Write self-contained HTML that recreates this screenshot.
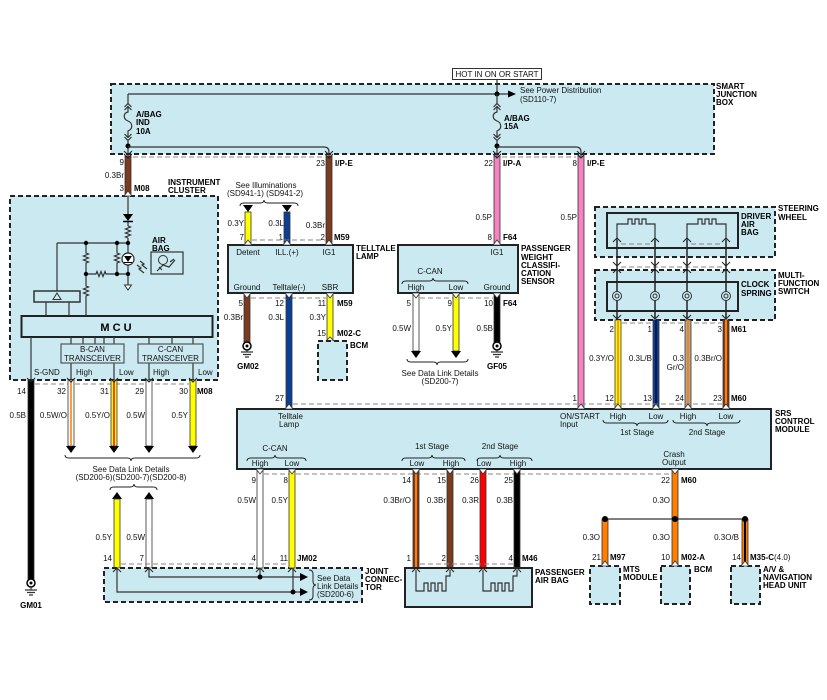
<!DOCTYPE html>
<html><head><meta charset="utf-8"><style>
html,body{margin:0;padding:0;background:#fff;}
svg{display:block;}
text{font-family:"Liberation Sans",Arial,sans-serif;font-size:8px;fill:#111;}
.b{font-weight:bold;fill:#000;}
.m{text-anchor:middle;}
.e{text-anchor:end;}
.ln{stroke:#333;stroke-width:1.2;fill:none;}
.dl{stroke:#888;stroke-width:1;stroke-dasharray:5 3;fill:none;}
.db{fill:#cbe9f1;stroke:#222;stroke-width:2;stroke-dasharray:5 3;}
.sb{fill:#cbe9f1;stroke:#222;stroke-width:2;}
.w{stroke:#333;stroke-width:0.8;}
.pn{fill:#fff;stroke:#333;stroke-width:0.8;}
.ch{stroke:#222;stroke-width:1;fill:none;}
</style></head><body>
<svg width="827" height="700" viewBox="0 0 827 700" xmlns="http://www.w3.org/2000/svg">

<!-- SMART JUNCTION BOX -->
<rect class="db" x="111" y="84" width="603" height="70"/>
<rect x="452.5" y="68.5" width="89" height="11" fill="#fff" stroke="#333"/>
<text class="m" x="497" y="77">HOT IN ON OR START</text>
<line class="ln" x1="497" y1="80" x2="497" y2="94"/>
<line class="ln" x1="128" y1="94" x2="509" y2="94"/>
<polygon points="508,90.5 516,94 508,97.5" fill="#000"/>
<circle cx="497" cy="94" r="2.5" fill="#000"/>
<text x="520" y="93">See Power Distribution</text>
<text x="520" y="102">(SD110-7)</text>
<text class="b" x="716" y="89">SMART</text>
<text class="b" x="716" y="97">JUNCTION</text>
<text class="b" x="716" y="105">BOX</text>

<path class="ln" d="M128,94 V104 M124.5,107 L128,103.5 L131.5,107 M124.5,110 L128,106.5 L131.5,110 M128,107 V112 C123,113 123,119 128,121 C133,123 133,129 128,131 V137 M124.5,134 L128,137.5 L131.5,134 M124.5,137 L128,140.5 L131.5,137 M128,140 V154"/>
<circle cx="128" cy="146" r="2.5" fill="#000"/>
<path class="ln" d="M128,147 H324 Q329,147 329,152 V154"/>
<text class="b" x="136" y="117">A/BAG</text>
<text class="b" x="136" y="125">IND</text>
<text class="b" x="136" y="134">10A</text>

<path class="ln" d="M497,94 V104 M493.5,107 L497,103.5 L500.5,107 M493.5,110 L497,106.5 L500.5,110 M497,107 V112 C492,113 492,119 497,121 C502,123 502,129 497,131 V137 M493.5,134 L497,137.5 L500.5,134 M493.5,137 L497,140.5 L500.5,137 M497,140 V154"/>
<circle cx="497" cy="146" r="2.5" fill="#000"/>
<path class="ln" d="M497,147 H576 Q581,147 581,152 V154"/>
<text class="b" x="504" y="121">A/BAG</text>
<text class="b" x="504" y="129">15A</text>

<!-- top wires -->
<line class="dl" x1="133" y1="157" x2="324" y2="157"/>
<line class="dl" x1="502" y1="157" x2="576" y2="157"/>
<rect class="w" x="125" y="156" width="6" height="40" fill="#7c3a1f"/>
<rect class="w" x="326" y="156" width="6" height="89" fill="#7c3a1f"/>
<rect class="w" x="494" y="156" width="6" height="89" fill="#f583c2"/>
<rect class="w" x="578" y="156" width="6" height="253" fill="#f583c2"/>
<path class="ch" d="M124,151 L128,155 L132,151 M124,154 L128,158 L132,154"/>
<path class="ch" d="M325,151 L329,155 L333,151 M325,154 L329,158 L333,154"/>
<path class="ch" d="M493,151 L497,155 L501,151 M493,154 L497,158 L501,154"/>
<path class="ch" d="M577,151 L581,155 L585,151 M577,154 L581,158 L585,154"/>
<text class="e" x="124" y="165">9</text>
<text class="e" x="124" y="178">0.3Br</text>
<text class="e" x="124" y="191">3</text>
<text class="b" x="134" y="191">M08</text>
<text class="e" x="325" y="166">23</text>
<text class="b" x="335" y="166">I/P-E</text>
<text class="e" x="493" y="166">22</text>
<text class="b" x="503" y="166">I/P-A</text>
<text class="e" x="577" y="166">8</text>
<text class="b" x="587" y="166">I/P-E</text>
<text class="e" x="325" y="228">0.3Br</text>
<text class="e" x="325" y="240">2</text>
<text class="b" x="334" y="240">M59</text>
<text class="e" x="492" y="220">0.5P</text>
<text class="e" x="492" y="240">8</text>
<text class="b" x="503" y="240">F64</text>
<text class="e" x="577" y="220">0.5P</text>

<!-- INSTRUMENT CLUSTER -->
<text class="b" x="168" y="185">INSTRUMENT</text>
<text class="b" x="168" y="193">CLUSTER</text>
<rect class="db" x="10" y="196" width="208" height="184"/>
<polygon class="pn" points="124,196 132,196 128,191"/>
<path class="ln" d="M128,196 V214 M128,221 V226 M128,238 V253 M128,265 V285"/>
<polygon points="123,214 133,214 128,221" fill="#000"/>
<line x1="123" y1="221.5" x2="133" y2="221.5" stroke="#000" stroke-width="1.5"/>
<path class="ln" d="M128,226 l2.5,1 l-5,2 l5,2 l-5,2 l5,2 l-5,2 l2.5,1"/>
<line class="ln" x1="57" y1="243" x2="128" y2="243"/>
<line class="ln" x1="57" y1="243" x2="57" y2="291"/>
<path class="ln" d="M86,243 V253 l2.5,1 l-5,2 l5,2 l-5,2 l5,2 l-2.5,1 V286 l2.5,1 l-5,2 l5,2 l-5,2 l5,2 l-2.5,1 V316"/>
<path class="ln" d="M117,243 V253 l2.5,1 l-5,2 l5,2 l-5,2 l5,2 l-2.5,1 V274"/>
<path class="ln" d="M86,274 H96 l1,-2.5 l2,5 l2,-5 l2,5 l2,-5 l1,2.5 H128"/>
<circle cx="86" cy="243" r="2.2" fill="#000"/>
<circle cx="117" cy="243" r="2.2" fill="#000"/>
<circle cx="128" cy="243" r="2.2" fill="#000"/>
<circle cx="86" cy="274" r="2.2" fill="#000"/>
<circle cx="117" cy="274" r="2.2" fill="#000"/>
<circle cx="128" cy="274" r="2.2" fill="#000"/>
<circle cx="128" cy="259" r="6" fill="#fff" stroke="#222" stroke-width="1.2"/>
<polygon points="124,256 132,256 128,262" fill="#000"/>
<line x1="124" y1="262.5" x2="132" y2="262.5" stroke="#000"/>
<polygon points="124.5,285 131.5,285 128,290" fill="#fff" stroke="#333"/>
<path class="ln" d="M137,265 l4,3 l-2,1 l5,4 M140,261 l4,3 l-2,1 l5,4"/>
<text class="b" x="152" y="243">AIR</text>
<text class="b" x="152" y="251">BAG</text>
<rect x="151" y="252" width="32" height="22" fill="#cbe9f1" stroke="#333" stroke-width="1.2"/>
<circle cx="163" cy="260" r="4.5" fill="none" stroke="#333"/>
<path class="ln" d="M157,271 l6,-6 l6,2 l6,-7 M170,262 l4,-3 M159,267 l3,3"/>
<rect x="34" y="291" width="46" height="11" fill="#cbe9f1" stroke="#333" stroke-width="1.5"/>
<polygon points="57,293 61,299.5 53,299.5" fill="none" stroke="#333"/>
<path class="ln" d="M46,302 V316 M69,302 V316"/>
<rect x="21.5" y="316" width="191" height="21" fill="#cbe9f1" stroke="#222" stroke-width="2"/>
<text class="b m" x="116" y="331" style="font-size:11px">M C U</text>
<path class="ln" d="M71,337 V344 M83,337 V344 M95,337 V344 M104,337 V344 M114,337 V344 M149,337 V344 M172,337 V344 M193,337 V344 M31,337 V380 M71,363 V380 M114,363 V380 M149,363 V380 M193,363 V380"/>
<rect x="61" y="344" width="63" height="19" fill="#cbe9f1" stroke="#555" stroke-width="1.2"/>
<rect x="138" y="344" width="65" height="19" fill="#cbe9f1" stroke="#555" stroke-width="1.2"/>
<text class="m" x="92.5" y="352">B-CAN</text>
<text class="m" x="92.5" y="361">TRANSCEIVER</text>
<text class="m" x="170.5" y="352">C-CAN</text>
<text class="m" x="170.5" y="361">TRANSCEIVER</text>
<text x="34" y="375">S-GND</text>
<text x="76" y="375">High</text>
<text x="119" y="375">Low</text>
<text x="153" y="375">High</text>
<text x="198" y="375">Low</text>

<!-- cluster bottom wires -->
<line class="dl" x1="35" y1="384" x2="189" y2="384"/>
<rect class="w" x="28" y="380" width="6" height="200" fill="#000"/>
<rect class="w" x="68" y="380" width="6" height="66" fill="#fff"/><rect x="70" y="380" width="2" height="66" fill="#ff9a40"/>
<rect class="w" x="111" y="380" width="6" height="66" fill="#ffff00"/><rect x="113" y="380" width="2" height="66" fill="#ff4000"/>
<rect class="w" x="146" y="380" width="6" height="66" fill="#fff"/>
<rect class="w" x="190" y="380" width="6" height="66" fill="#ffff00"/>
<path class="ch" d="M27,378 L31,382 L35,378 M67,378 L71,382 L75,378 M110,378 L114,382 L118,378 M145,378 L149,382 L153,378 M189,378 L193,382 L197,378"/>
<polygon points="66,446 76,446 71,453" fill="#000"/>
<polygon points="109,446 119,446 114,453" fill="#000"/>
<polygon points="144,446 154,446 149,453" fill="#000"/>
<polygon points="188,446 198,446 193,453" fill="#000"/>
<text class="e" x="26" y="394">14</text>
<text class="e" x="66" y="394">32</text>
<text class="e" x="109" y="394">31</text>
<text class="e" x="144" y="394">29</text>
<text class="e" x="188" y="394">30</text>
<text class="b" x="197" y="394">M08</text>
<text class="e" x="26" y="418">0.5B</text>
<text class="e" x="67" y="418">0.5W/O</text>
<text class="e" x="110" y="418">0.5Y/O</text>
<text class="e" x="145" y="418">0.5W</text>
<text class="e" x="188" y="418">0.5Y</text>
<path class="ch" d="M65,455 Q65,458 69,458 L127,458 Q131,458 131,461 Q131,458 135,458 L196,458 Q200,458 200,455"/>
<text class="m" x="131" y="472">See Data Link Details</text>
<text class="m" x="131" y="480">(SD200-6)(SD200-7)(SD200-8)</text>
<path class="ch" d="M110,490 Q110,487 114,487 L130,487 Q134,487 134,484 Q134,487 138,487 L153,487 Q157,487 157,490"/>
<polygon points="112,499 122,499 117,492" fill="#000"/>
<polygon points="144,499 154,499 149,492" fill="#000"/>
<rect class="w" x="114" y="499" width="6" height="69" fill="#ffff00"/>
<rect class="w" x="146" y="499" width="6" height="69" fill="#fff"/>
<text class="e" x="112" y="540">0.5Y</text>
<text class="e" x="145" y="540">0.5W</text>
<text class="e" x="112" y="561">14</text>
<text class="e" x="144" y="561">7</text>
<line class="dl" x1="121" y1="564" x2="288" y2="564"/>
<!-- ground GM01 -->
<circle cx="31" cy="583" r="4" fill="#fff" stroke="#000" stroke-width="1.5"/>
<circle cx="31" cy="583" r="1.5" fill="#000"/>
<path class="ln" d="M31,587 V590 M25,590 H37 M27,592.5 H35 M29,595 H33"/>
<text class="b m" x="31" y="608">GM01</text>

<!-- JOINT CONNECTOR -->
<rect class="db" x="104" y="568" width="258" height="34"/>
<path class="ch" d="M113,572 L117,568 L121,572 M145,572 L149,568 L153,572 M256,572 L260,568 L264,572 M288,572 L292,568 L296,572"/>
<path class="ln" d="M149,568 V577 H301 M117,568 V592 H301 M260,568 V577 M293,568 V592"/>
<circle cx="260" cy="577" r="2.5" fill="#000"/>
<circle cx="293" cy="592" r="2.5" fill="#000"/>
<polygon points="300,573 308,577 300,581" fill="#000"/>
<polygon points="300,588 308,592 300,596" fill="#000"/>
<path class="ch" d="M309,570 Q313,570 313,574 L313,581 Q313,585 316,585 Q313,585 313,589 L313,596 Q313,600 309,600"/>
<text x="317" y="581">See Data</text>
<text x="317" y="589">Link Details</text>
<text x="317" y="597">(SD200-6)</text>
<text class="b" x="365" y="574">JOINT</text>
<text class="b" x="365" y="582">CONNEC-</text>
<text class="b" x="365" y="590">TOR</text>

<!-- TELLTALE LAMP -->
<text class="m" x="266" y="188">See Illuminations</text>
<text class="m" x="265" y="196">(SD941-1) (SD941-2)</text>
<path class="ch" d="M240,206 Q240,203 244,203 L260,203 Q264,203 264,200 Q264,203 268,203 L294,203 Q298,203 298,206"/>
<polygon points="243,205 253,205 248,212" fill="#000"/>
<polygon points="282,205 292,205 287,212" fill="#000"/>
<rect class="w" x="245" y="212" width="6" height="33" fill="#ffff00"/>
<rect class="w" x="284" y="212" width="6" height="33" fill="#0c3f94"/>
<text class="e" x="244" y="226">0.3Y</text>
<text class="e" x="284" y="226">0.3L</text>
<text class="e" x="244" y="240">7</text>
<text class="e" x="283" y="240">1</text>
<line class="dl" x1="252" y1="240" x2="325" y2="240"/>
<rect class="sb" x="228" y="245" width="125" height="48"/>
<polygon class="pn" points="244,245 252,245 248,240"/>
<polygon class="pn" points="283,245 291,245 287,240"/>
<polygon class="pn" points="325,245 333,245 329,240"/>
<text class="b" x="356" y="251">TELLTALE</text>
<text class="b" x="356" y="259">LAMP</text>
<text class="m" x="248" y="255">Detent</text>
<text class="m" x="287" y="255">ILL.(+)</text>
<text class="m" x="329" y="255">IG1</text>
<text class="m" x="247" y="290">Ground</text>
<text class="m" x="289" y="290">Telltale(-)</text>
<text class="m" x="330" y="290">SBR</text>
<line class="dl" x1="251" y1="298" x2="326" y2="298"/>
<rect class="w" x="244" y="293" width="6" height="49" fill="#7c3a1f"/>
<rect class="w" x="286" y="293" width="6" height="116" fill="#0c3f94"/>
<rect class="w" x="327" y="293" width="6" height="48" fill="#ffff00"/>
<polygon class="pn" points="243,293 251,293 247,298"/>
<polygon class="pn" points="285,293 293,293 289,298"/>
<polygon class="pn" points="326,293 334,293 330,298"/>
<text class="e" x="243" y="306">5</text>
<text class="e" x="284" y="306">12</text>
<text class="e" x="326" y="306">11</text>
<text class="b" x="337" y="306">M59</text>
<text class="e" x="243" y="320">0.3Br</text>
<text class="e" x="284" y="320">0.3L</text>
<text class="e" x="326" y="320">0.3Y</text>
<text class="e" x="326" y="336">15</text>
<text class="b" x="337" y="336">M02-C</text>
<polygon class="pn" points="326,341 334,341 330,337"/>
<rect class="db" x="318" y="341" width="29" height="39"/>
<text class="b" x="350" y="348">BCM</text>
<circle cx="247" cy="346" r="4" fill="#fff" stroke="#000" stroke-width="1.5"/>
<circle cx="247" cy="346" r="1.5" fill="#000"/>
<path class="ln" d="M247,350 V352 M241,352 H253 M243,354.5 H251 M245,357 H249"/>
<text class="b m" x="248" y="369">GM02</text>

<!-- PASSENGER WEIGHT SENSOR -->
<rect class="sb" x="398" y="245" width="120" height="48"/>
<polygon class="pn" points="493,245 501,245 497,240"/>
<text class="m" x="497" y="255">IG1</text>
<text class="b" x="521" y="251">PASSENGER</text>
<text class="b" x="521" y="260">WEIGHT</text>
<text class="b" x="521" y="268">CLASSIFI-</text>
<text class="b" x="521" y="276">CATION</text>
<text class="b" x="521" y="284">SENSOR</text>
<text class="m" x="430" y="274">C-CAN</text>
<path class="ch" d="M402,284 Q402,281 406,281 L429,281 Q433,281 433,278 Q433,281 437,281 L464,281 Q468,281 468,284"/>
<text class="m" x="416" y="290">High</text>
<text class="m" x="456" y="290">Low</text>
<text class="m" x="497" y="290">Ground</text>
<line class="dl" x1="420" y1="298" x2="493" y2="298"/>
<rect class="w" x="413" y="293" width="6" height="58" fill="#fff"/>
<rect class="w" x="453" y="293" width="6" height="58" fill="#ffff00"/>
<rect class="w" x="494" y="293" width="6" height="49" fill="#000"/>
<polygon class="pn" points="412,293 420,293 416,298"/>
<polygon class="pn" points="452,293 460,293 456,298"/>
<polygon class="pn" points="493,293 501,293 497,298"/>
<polygon points="411,351 421,351 416,358" fill="#000"/>
<polygon points="451,351 461,351 456,358" fill="#000"/>
<text class="e" x="411" y="306">5</text>
<text class="e" x="452" y="306">9</text>
<text class="e" x="493" y="306">10</text>
<text class="b" x="503" y="306">F64</text>
<text class="e" x="411" y="331">0.5W</text>
<text class="e" x="452" y="331">0.5Y</text>
<text class="e" x="493" y="331">0.5B</text>
<path class="ch" d="M407,359 Q407,362 411,362 L433,362 Q437,362 437,365 Q437,362 441,362 L464,362 Q468,362 468,359"/>
<text class="m" x="440" y="376">See Data Link Details</text>
<text class="m" x="440" y="384">(SD200-7)</text>
<circle cx="497" cy="346" r="4" fill="#fff" stroke="#000" stroke-width="1.5"/>
<circle cx="497" cy="346" r="1.5" fill="#000"/>
<path class="ln" d="M497,350 V352 M491,352 H503 M493,354.5 H501 M495,357 H499"/>
<text class="b m" x="497" y="369">GF05</text>

<!-- STEERING WHEEL / MFS -->
<rect class="db" x="595" y="207" width="180" height="50"/>
<text class="b" x="778" y="211">STEERING</text>
<text class="b" x="778" y="220">WHEEL</text>
<rect x="607" y="213" width="131" height="35" fill="#cbe9f1" stroke="#222" stroke-width="2"/>
<text class="b" x="741" y="219">DRIVER</text>
<text class="b" x="741" y="227">AIR</text>
<text class="b" x="741" y="235">BAG</text>
<path class="ln" d="M617,240 V224 H628 V219 H632 V224 H635 V219 H639 V224 H642 V219 H646 V224 H655 V240"/>
<path class="ln" d="M687,240 V224 H698 V219 H702 V224 H705 V219 H709 V224 H712 V219 H716 V224 H726 V240"/>
<line class="dl" x1="621" y1="244" x2="651" y2="244"/>
<line class="dl" x1="691" y1="244" x2="722" y2="244"/>
<rect class="db" x="595" y="270" width="180" height="50"/>
<text class="b" x="778" y="278">MULTI-</text>
<text class="b" x="778" y="286">FUNCTION</text>
<text class="b" x="778" y="294">SWITCH</text>
<rect x="607" y="282" width="131" height="29" fill="#cbe9f1" stroke="#222" stroke-width="2"/>
<text class="b" x="741" y="287">CLOCK</text>
<text class="b" x="741" y="296">SPRING</text>
<line class="dl" x1="621" y1="267" x2="722" y2="267"/>
<g stroke="#222" stroke-width="1.5" fill="none">
<path d="M617,240 V318 M655,240 V318 M687,240 V318 M726,240 V318"/>
</g>
<g class="ch">
<path d="M613,242 L617,238 L621,242 M651,242 L655,238 L659,242 M683,242 L687,238 L691,242 M722,242 L726,238 L730,242"/>
<path d="M613,262 L617,266 L621,262 M651,262 L655,266 L659,262 M683,262 L687,266 L691,262 M722,262 L726,266 L730,262"/>
<path d="M613,273 L617,269 L621,273 M651,273 L655,269 L659,273 M683,273 L687,269 L691,273 M722,273 L726,269 L730,273"/>
<path d="M613,315 L617,319 L621,315 M651,315 L655,319 L659,315 M683,315 L687,319 L691,315 M722,315 L726,319 L730,315"/>
</g>
<g fill="#cbe9f1" stroke="#333" stroke-width="1">
<circle cx="617" cy="296" r="4.5"/><circle cx="655" cy="296" r="4.5"/><circle cx="687" cy="296" r="4.5"/><circle cx="726" cy="296" r="4.5"/>
<circle cx="617" cy="296" r="2"/><circle cx="655" cy="296" r="2"/><circle cx="687" cy="296" r="2"/><circle cx="726" cy="296" r="2"/>
</g>
<line class="dl" x1="622" y1="323" x2="722" y2="323"/>
<rect class="w" x="615" y="320" width="6" height="89" fill="#ffff00"/><rect x="617" y="320" width="2" height="89" fill="#ff9a00"/>
<rect class="w" x="653" y="320" width="6" height="89" fill="#0c3f94"/><rect x="655" y="320" width="2" height="89" fill="#061a50"/>
<rect class="w" x="685" y="320" width="6" height="89" fill="#a9a9a9"/><rect x="687" y="320" width="2" height="89" fill="#ff7f00"/>
<rect class="w" x="723" y="320" width="6" height="89" fill="#7c3a1f"/><rect x="725" y="320" width="2" height="89" fill="#ff7f00"/>
<text class="e" x="614" y="332">2</text>
<text class="e" x="652" y="332">1</text>
<text class="e" x="684" y="332">4</text>
<text class="e" x="722" y="332">3</text>
<text class="b" x="731" y="332">M61</text>
<text class="e" x="614" y="361">0.3Y/O</text>
<text class="e" x="652" y="361">0.3L/B</text>
<text class="e" x="684" y="361">0.3</text>
<text class="e" x="684" y="370">Gr/O</text>
<text class="e" x="722" y="361">0.3Br/O</text>
<text class="e" x="614" y="401">12</text>
<text class="e" x="652" y="401">13</text>
<text class="e" x="684" y="401">24</text>
<text class="e" x="722" y="401">23</text>
<text class="b" x="731" y="401">M60</text>
<text class="e" x="577" y="401">1</text>

<!-- SRS CONTROL MODULE -->
<line class="dl" x1="293" y1="404" x2="722" y2="404"/>
<text class="e" x="284" y="401">27</text>
<rect class="sb" x="237" y="409" width="534" height="60"/>
<g>
<polygon class="pn" points="285,409 293,409 289,404"/>
<polygon class="pn" points="577,409 585,409 581,404"/>
<polygon class="pn" points="614,409 622,409 618,404"/>
<polygon class="pn" points="652,409 660,409 656,404"/>
<polygon class="pn" points="684,409 692,409 688,404"/>
<polygon class="pn" points="722,409 730,409 726,404"/>
</g>
<text class="b" x="775" y="416">SRS</text>
<text class="b" x="775" y="424">CONTROL</text>
<text class="b" x="775" y="432">MODULE</text>
<text x="278" y="419">Telltale</text>
<text x="279" y="427">Lamp</text>
<text x="560" y="419">ON/START</text>
<text x="560" y="427">Input</text>
<text class="m" x="618" y="419">High</text>
<text class="m" x="656" y="419">Low</text>
<text class="m" x="688" y="419">High</text>
<text class="m" x="726" y="419">Low</text>
<path class="ch" d="M603,420 Q603,423 607,423 L633,423 Q637,423 637,426 Q637,423 641,423 L664,423 Q668,423 668,420"/>
<path class="ch" d="M673,420 Q673,423 677,423 L703,423 Q707,423 707,426 Q707,423 711,423 L736,423 Q740,423 740,420"/>
<text class="m" x="637" y="435">1st Stage</text>
<text class="m" x="707" y="435">2nd Stage</text>
<text class="m" x="275" y="451">C-CAN</text>
<path class="ch" d="M247,461 Q247,458 251,458 L271,458 Q275,458 275,455 Q275,458 279,458 L302,458 Q306,458 306,461"/>
<text class="m" x="260" y="466">High</text>
<text class="m" x="292" y="466">Low</text>
<text class="m" x="432" y="449">1st Stage</text>
<path class="ch" d="M402,461 Q402,458 406,458 L428,458 Q432,458 432,455 Q432,458 436,458 L461,458 Q465,458 465,461"/>
<text class="m" x="417" y="466">Low</text>
<text class="m" x="451" y="466">High</text>
<text class="m" x="500" y="449">2nd Stage</text>
<path class="ch" d="M477,461 Q477,458 481,458 L496,458 Q500,458 500,455 Q500,458 504,458 L528,458 Q532,458 532,461"/>
<text class="m" x="484" y="466">Low</text>
<text class="m" x="518" y="466">High</text>
<text class="m" x="674" y="457">Crash</text>
<text class="m" x="674" y="465">Output</text>

<!-- SRS bottom wires -->
<line class="dl" x1="264" y1="474" x2="671" y2="474"/>
<rect class="w" x="257" y="469" width="6" height="99" fill="#fff"/>
<rect class="w" x="289" y="469" width="6" height="99" fill="#ffff00"/>
<rect class="w" x="413" y="469" width="6" height="99" fill="#7c3a1f"/><rect x="415" y="469" width="2" height="99" fill="#ff7f00"/>
<rect class="w" x="447" y="469" width="6" height="99" fill="#7c3a1f"/>
<rect class="w" x="480" y="469" width="6" height="99" fill="#ff0000"/>
<rect class="w" x="514" y="469" width="6" height="99" fill="#000"/>
<rect class="w" x="672" y="469" width="6" height="50" fill="#ff7f00"/>
<g>
<polygon class="pn" points="256,469 264,469 260,474"/>
<polygon class="pn" points="288,469 296,469 292,474"/>
<polygon class="pn" points="412,469 420,469 416,474"/>
<polygon class="pn" points="446,469 454,469 450,474"/>
<polygon class="pn" points="479,469 487,469 483,474"/>
<polygon class="pn" points="513,469 521,469 517,474"/>
<polygon class="pn" points="671,469 679,469 675,474"/>
</g>
<text class="e" x="256" y="483">9</text>
<text class="e" x="288" y="483">8</text>
<text class="e" x="411" y="483">14</text>
<text class="e" x="446" y="483">15</text>
<text class="e" x="479" y="483">26</text>
<text class="e" x="513" y="483">25</text>
<text class="e" x="670" y="483">22</text>
<text class="b" x="681" y="483">M60</text>
<text class="e" x="256" y="503">0.5W</text>
<text class="e" x="288" y="503">0.5Y</text>
<text class="e" x="411" y="503">0.3Br/O</text>
<text class="e" x="446" y="503">0.3Br</text>
<text class="e" x="479" y="503">0.3R</text>
<text class="e" x="513" y="503">0.3B</text>
<text class="e" x="670" y="503">0.3O</text>
<text class="e" x="256" y="561">4</text>
<text class="e" x="288" y="561">11</text>
<text class="b" x="297" y="561">JM02</text>
<text class="e" x="411" y="561">1</text>
<text class="e" x="446" y="561">2</text>
<text class="e" x="479" y="561">3</text>
<text class="e" x="513" y="561">4</text>
<text class="b" x="522" y="561">M46</text>
<line class="dl" x1="420" y1="564" x2="513" y2="564"/>

<!-- PASSENGER AIR BAG -->
<rect class="sb" x="405" y="568" width="127" height="39"/>
<path class="ch" d="M412,572 L416,568 L420,572 M446,572 L450,568 L454,572 M479,572 L483,568 L487,572 M513,572 L517,568 L521,572"/>
<path class="ln" d="M416,570 V591 H424 V583 H428 V591 H431 V583 H435 V591 H438 V583 H442 V591 H446 V576 H450 V570"/>
<path class="ln" d="M483,570 V591 H491 V583 H495 V591 H498 V583 H502 V591 H505 V583 H509 V591 H513 V576 H517 V570"/>
<text class="b" x="535" y="575">PASSENGER</text>
<text class="b" x="535" y="583">AIR BAG</text>

<!-- CRASH OUTPUT branches -->
<line class="ln" x1="605" y1="519" x2="745" y2="519"/>
<rect class="w" x="602" y="519" width="6" height="47" fill="#ff7f00"/>
<rect class="w" x="672" y="519" width="6" height="47" fill="#ff7f00"/>
<rect class="w" x="742" y="519" width="6" height="47" fill="#ff7f00"/><rect x="744" y="519" width="2" height="47" fill="#000"/>
<circle cx="605" cy="519" r="3" fill="#000"/>
<circle cx="675" cy="519" r="3" fill="#000"/>
<circle cx="745" cy="519" r="3" fill="#000"/>
<text class="e" x="600" y="540">0.3O</text>
<text class="e" x="670" y="540">0.3O</text>
<text class="e" x="739" y="540">0.3O/B</text>
<text class="e" x="601" y="560">21</text>
<text class="b" x="610" y="560">M97</text>
<text class="e" x="670" y="560">10</text>
<text class="b" x="681" y="560">M02-A</text>
<text class="e" x="741" y="560">14</text>
<text x="750" y="560"><tspan class="b">M35-C</tspan>(4.0)</text>
<rect class="db" x="590" y="566" width="30" height="38"/>
<rect class="db" x="661" y="566" width="29" height="38"/>
<rect class="db" x="731" y="566" width="29" height="38"/>
<polygon class="pn" points="601,566 609,566 605,561"/>
<polygon class="pn" points="671,566 679,566 675,561"/>
<polygon class="pn" points="741,566 749,566 745,561"/>
<text class="b" x="623" y="572">MTS</text>
<text class="b" x="623" y="580">MODULE</text>
<text class="b" x="694" y="572">BCM</text>
<text class="b" x="763" y="572">A/V &amp;</text>
<text class="b" x="763" y="580">NAVIGATION</text>
<text class="b" x="763" y="588">HEAD UNIT</text>

</svg>
</body></html>
